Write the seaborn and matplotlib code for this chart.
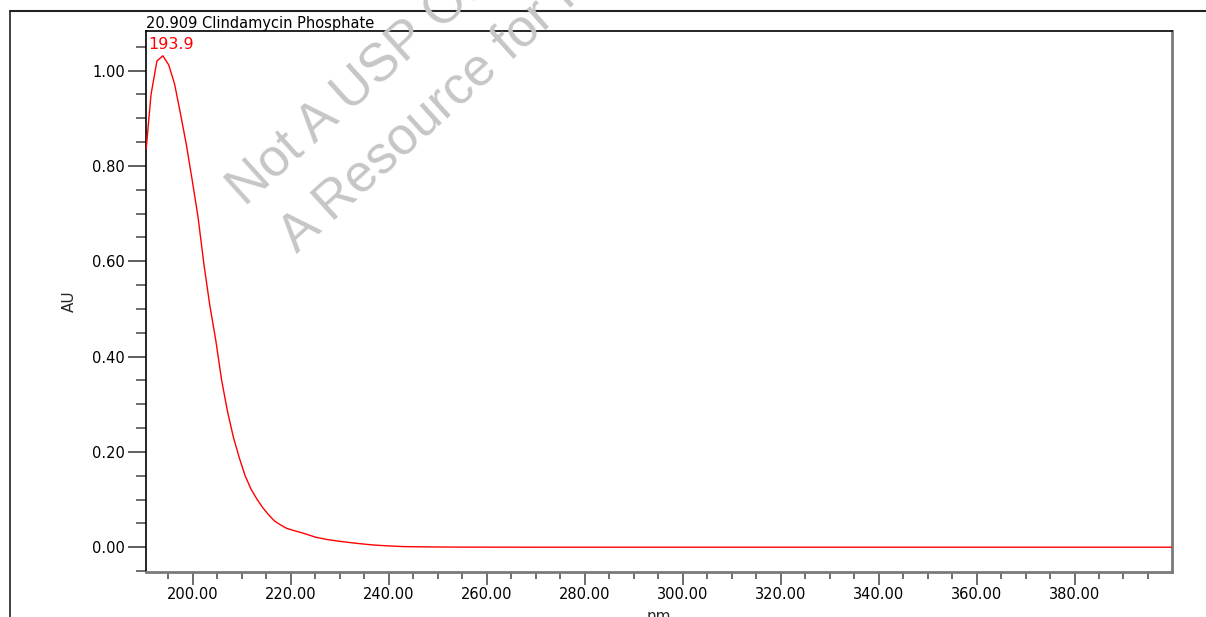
import numpy as np
import pandas as pd
import matplotlib
matplotlib.use("Agg")
import matplotlib.pyplot as plt
from matplotlib.lines import Line2D
from matplotlib.ticker import MultipleLocator, FixedLocator
import seaborn as sns

# ---------------------------------------------------------------------------
# Data
# ---------------------------------------------------------------------------

wavelength_nm = [
    190.5, 191.5, 192.7, 193.9, 195.1, 196.3, 197.5, 198.7, 199.9, 201.1,
    202.3, 203.5, 204.7, 205.9, 207.1, 208.3, 209.5, 210.7, 211.9, 213.1,
    214.3, 215.5, 216.7, 217.9, 219.1, 220.3, 222.7, 225.1, 227.5, 229.9,
    232.3, 234.7, 237.1, 239.5, 243.1, 248.5, 255.0, 270.0, 300.0, 350.0,
    399.9,
]
absorbance_au = [
    0.835, 0.950, 1.020, 1.031, 1.012, 0.972, 0.910, 0.845, 0.770, 0.692,
    0.593, 0.507, 0.435, 0.351, 0.285, 0.231, 0.188, 0.150, 0.122, 0.101,
    0.083, 0.068, 0.055, 0.047, 0.040, 0.036, 0.029, 0.021, 0.016, 0.0125,
    0.0095, 0.0068, 0.0045, 0.003, 0.0013, 0.0006, 0.0002, 0.0, 0.0, 0.0,
    0.0,
]

peak_nm = 193.9
peak_label = "193.9"
title_text = "20.909 Clindamycin Phosphate"
watermark_lines = ["Not A USP Official", "A Resource for Information"]

x_major_ticks = [200, 220, 240, 260, 280, 300, 320, 340, 360, 380]
y_major_ticks = [0.0, 0.2, 0.4, 0.6, 0.8, 1.0]

W, H = 1206, 617


def px_x(p):
    return p / W


def px_y(p):
    return 1 - p / H


# ---------------------------------------------------------------------------
# Plot
# ---------------------------------------------------------------------------

sns.set_theme(style="white")
plt.rcParams['font.family'] = ['DejaVu Sans']

df = pd.DataFrame({'nm': wavelength_nm, 'AU': absorbance_au})

fig = plt.figure(figsize=(W / 100, H / 100), dpi=100, facecolor='white')
ax = fig.add_axes([px_x(146), px_y(572), px_x(1172) - px_x(146), px_y(31) - px_y(572)])

sns.lineplot(data=df, x='nm', y='AU', ax=ax, color='#ff0000', linewidth=1.0,
             estimator=None, sort=False, zorder=3)

ax.set_xlim(190.47, 399.9)
ax.set_ylim(-0.052, 1.083)

ax.xaxis.set_major_locator(FixedLocator(x_major_ticks))
ax.xaxis.set_minor_locator(MultipleLocator(5))
ax.yaxis.set_major_locator(FixedLocator(y_major_ticks))
ax.yaxis.set_minor_locator(MultipleLocator(0.05))
ax.set_xticklabels([f"{v:.2f}" for v in x_major_ticks])
ax.set_yticklabels([f"{v:.2f}" for v in y_major_ticks])

ax.tick_params(axis='x', which='major', length=9, width=1.2, color='#555555',
               direction='out', pad=2, labelsize=10.5, labelcolor='black', bottom=True)
ax.tick_params(axis='x', which='minor', length=5, width=1.2, color='#555555',
               direction='out', bottom=True)
ax.tick_params(axis='y', which='major', length=13, width=1.2, color='#444444',
               direction='out', pad=2, labelsize=10.5, labelcolor='black', left=True)
ax.tick_params(axis='y', which='minor', length=7, width=1.2, color='#555555',
               direction='out', left=True)

for side in ['left', 'top']:
    ax.spines[side].set_color('black')
    ax.spines[side].set_linewidth(1.2)
for side in ['bottom', 'right']:
    ax.spines[side].set_color('#7a7a7a')
    ax.spines[side].set_linewidth(2.0)

ax.set_xlabel('nm', fontsize=11)
ax.set_ylabel('AU', fontsize=11)
ax.xaxis.set_label_coords(0.5, -0.068)
ax.yaxis.set_label_coords(-0.0675, 0.5)
ax.xaxis.label.set_va('top')

ax.set_title(title_text, loc='left', fontsize=10.5, pad=2, color='black')

ax.text(190.9, 1.045, peak_label, color='#ff0000', fontsize=11.5,
        ha='left', va='baseline')

# outer report frame
fig.add_artist(Line2D([px_x(10), 1.0], [px_y(11), px_y(11)], color='#222222', lw=1.5))
fig.add_artist(Line2D([px_x(10), px_x(10)], [0.0, px_y(11)], color='#222222', lw=1.2))

# watermark
fig.text(px_x(245), px_y(207), watermark_lines[0], rotation=42, rotation_mode='anchor',
         ha='left', va='baseline', fontsize=38, color='#c6c6c6',
         family=['Liberation Sans', 'DejaVu Sans'], zorder=5)
fig.text(px_x(297), px_y(254), watermark_lines[1], rotation=42, rotation_mode='anchor',
         ha='left', va='baseline', fontsize=38, color='#c6c6c6',
         family=['Liberation Sans', 'DejaVu Sans'], zorder=5)

fig.savefig('out.png', dpi=100, facecolor='white')
plt.close(fig)
